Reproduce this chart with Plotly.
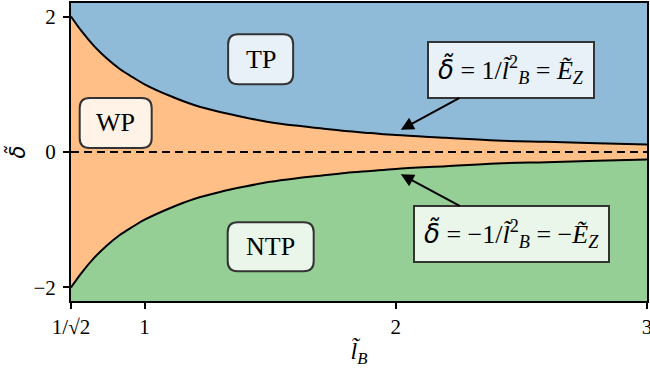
import plotly.graph_objects as go

# curve: delta = +/- 1/l_B^2
lb = [0.7071, 0.75, 0.8, 0.85, 0.9, 0.95, 1.0, 1.1, 1.2, 1.3, 1.4, 1.5, 1.6, 1.7, 1.8,
      1.9, 2.0, 2.2, 2.4, 2.6, 2.8, 3.0]
upper = [2.0, 1.78, 1.56, 1.38, 1.23, 1.11, 1.0, 0.83, 0.69, 0.59, 0.51, 0.44, 0.39, 0.35,
         0.31, 0.28, 0.25, 0.21, 0.17, 0.15, 0.13, 0.11]
lower = [-2.0, -1.78, -1.56, -1.38, -1.23, -1.11, -1.0, -0.83, -0.69, -0.59, -0.51, -0.44,
         -0.39, -0.35, -0.31, -0.28, -0.25, -0.21, -0.17, -0.15, -0.13, -0.11]
y_top, y_bot = 2.2, -2.2

x_ticks = [0.7071, 1, 2, 3]
x_ticktext = ['1/√2', '1', '2', '3']
y_ticks = [-2, 0, 2]
y_ticktext = ['−2', '0', '2']

# phase labels: (text, x, y, box width, box height)
phases = [('TP', 1.462, 1.37, 65, 50), ('WP', 0.885, 0.43, 72, 50), ('NTP', 1.502, -1.40, 86, 49)]

FONT = 'Liberation Serif'
DELTA = "<span style=\"font-family:'DejaVu Sans'\"><i>δ̃</i></span>"
blue, orange, green = '#8fbbd9', '#ffbf86', '#95cf95'

fig = go.Figure()
fig.add_trace(go.Scatter(x=lb, y=[y_top] * len(lb), mode='lines', line=dict(width=0), hoverinfo='skip'))
fig.add_trace(go.Scatter(x=lb, y=upper, mode='lines', line=dict(color='black', width=2, shape='spline'),
                         fill='tonexty', fillcolor=blue))
fig.add_trace(go.Scatter(x=lb, y=lower, mode='lines', line=dict(color='black', width=2, shape='spline'),
                         fill='tonexty', fillcolor=orange))
fig.add_trace(go.Scatter(x=lb, y=[y_bot] * len(lb), mode='lines', line=dict(width=0),
                         fill='tonexty', fillcolor=green))
fig.add_trace(go.Scatter(x=[lb[0], lb[-1]], y=[0, 0], mode='lines',
                         line=dict(color='black', width=2, dash='8px,5px')))

for txt, px, py, w, h in phases:
    r = 10
    a, b = w / 2, h / 2
    path = (f'M {-a + r},{-b} L {a - r},{-b} Q {a},{-b} {a},{-b + r} L {a},{b - r} Q {a},{b} {a - r},{b} '
            f'L {-a + r},{b} Q {-a},{b} {-a},{b - r} L {-a},{-b + r} Q {-a},{-b} {-a + r},{-b} Z')
    fig.add_shape(type='path', path=path, xsizemode='pixel', ysizemode='pixel', xanchor=px, yanchor=py,
                  xref='x', yref='y', fillcolor='rgba(255,255,255,0.8)',
                  line=dict(color='#333333', width=2), layer='above')
    fig.add_annotation(x=px, y=py, text=txt, showarrow=False, font=dict(family=FONT, size=26, color='black'))

arrows = [
    (DELTA + ' = 1/<i>l̃</i><sup>2</sup><sub><i>B</i></sub> = <i>Ẽ</i><sub><i>Z</i></sub>', 2.02, 0.33, 2.458, 1.21),
    (DELTA + ' = −1/<i>l̃</i><sup>2</sup><sub><i>B</i></sub> = −<i>Ẽ</i><sub><i>Z</i></sub>', 2.02, -0.33, 2.462, -1.21),
]
for txt, tx, ty, bx, by in arrows:
    fig.add_annotation(x=tx, y=ty, ax=bx, ay=by, axref='x', ayref='y', text=txt,
                       showarrow=True, arrowhead=2, arrowsize=1.3, arrowwidth=2, arrowcolor='black',
                       font=dict(family=FONT, size=26, color='black'),
                       bgcolor='rgba(255,255,255,0.8)', bordercolor='#333333', borderwidth=2, borderpad=9)

axis_common = dict(showline=True, linecolor='black', linewidth=2, mirror=True, ticks='outside',
                   ticklen=6, tickwidth=1.5, tickcolor='black', showgrid=False, zeroline=False,
                   automargin=False, ticklabeloverflow='allow',
                   tickfont=dict(family=FONT, size=21, color='black'))
fig.update_xaxes(range=[0.7071, 3], tickvals=x_ticks, ticktext=x_ticktext,
                 title=dict(text='<i>l̃</i><sub><i>B</i></sub>', font=dict(family=FONT, size=24, color='black'),
                            standoff=4),
                 **axis_common)
fig.update_yaxes(range=[y_bot, y_top], tickvals=y_ticks, ticktext=y_ticktext, ticklabelstandoff=3,
                 title=dict(text=DELTA, font=dict(family=FONT, size=21, color='black'), standoff=2),
                 **axis_common)
fig.update_layout(width=650, height=379, margin=dict(l=71, r=3, t=3, b=78), showlegend=False,
                  plot_bgcolor='white', paper_bgcolor='white')
fig.write_html('out.html', config={'displayModeBar': False},
               post_script="document.body.style.margin='0';")
